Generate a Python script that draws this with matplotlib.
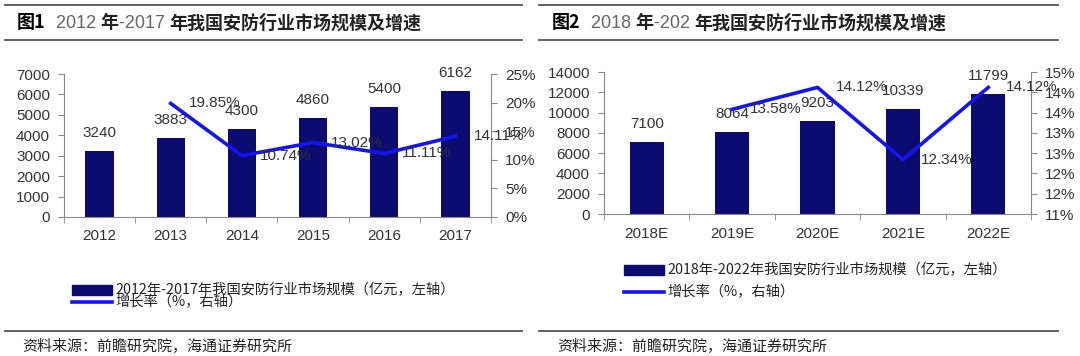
import numpy as np
import matplotlib
matplotlib.use("Agg")
import matplotlib.pyplot as plt
from matplotlib.patches import Rectangle
from matplotlib.lines import Line2D

plt.rcParams['font.family'] = ['Liberation Sans', 'Noto Sans CJK SC', 'DejaVu Sans']

# data - chart 1
years1 = ['2012', '2013', '2014', '2015', '2016', '2017']
size1 = [3240, 3883, 4300, 4860, 5400, 6162]
growth1 = [np.nan, 19.85, 10.74, 13.02, 11.11, 14.11]

# data - chart 2
years2 = ['2018E', '2019E', '2020E', '2021E', '2022E']
size2 = [7100, 8064, 9203, 10339, 11799]
growth2 = [np.nan, 13.58, 14.12, 12.34, 14.12]

title1 = [('图1', 'k', 'bold'), ('  2012 ', '#666666', 'normal'), ('年', '#222222', 'bold'),
          ('-2017 ', '#666666', 'normal'), ('年我国安防行业市场规模及增速', '#222222', 'bold')]
title2 = [('图2', 'k', 'bold'), ('  2018 ', '#666666', 'normal'), ('年', '#222222', 'bold'),
          ('-202 ', '#666666', 'normal'), ('年我国安防行业市场规模及增速', '#222222', 'bold')]
legend1 = ['2012年-2017年我国安防行业市场规模（亿元，左轴）', '增长率（%，右轴）']
legend2 = ['2018年-2022年我国安防行业市场规模（亿元，左轴）', '增长率（%，右轴）']
source = '资料来源：前瞻研究院，海通证券研究所'

BAR = '#0b0b70'
LINE = '#1414f0'
GREY = '#888888'
TXT = '#333333'
CJK = ['Noto Sans CJK SC', 'DejaVu Sans']

W, H = 1080, 356
fig = plt.figure(figsize=(W / 100, H / 100), dpi=100)


def fx(x):
    return x / W


def fy(y):
    return 1 - y / H


def rule(x0, x1, y):
    fig.add_artist(Line2D([fx(x0), fx(x1)], [fy(y), fy(y)], color='#555555', lw=1.3,
                          transform=fig.transFigure))


def pieces(x, y, parts):
    # title drawn piece by piece: bold CJK, light grey digits
    r = fig.canvas.get_renderer()
    for s, c, w in parts:
        if w == 'bold':
            t = fig.text(fx(x), fy(y), s, color=c, fontweight='bold', fontsize=13,
                         family=CJK, va='center', ha='left')
        else:
            t = fig.text(fx(x), fy(y), s, color=c, fontsize=13,
                         family=['Liberation Sans'], va='center', ha='left')
        bb = t.get_window_extent(renderer=r)
        x += bb.width


def chart(rect, cats, sizes, growth, ymax, ystep, rlim, rticks, rlabels):
    ax = fig.add_axes(rect)
    n = len(cats)
    x = np.arange(n)
    ax.bar(x, sizes, width=0.4, color=BAR, zorder=2)
    ax.set_xlim(-0.5, n - 0.5)
    ax.set_ylim(0, ymax)
    ax.set_yticks(np.arange(0, ymax + 1, ystep))
    ax.set_xticks(x)
    ax.set_xticklabels(cats)
    ax.set_xticks(np.arange(n + 1) - 0.5, minor=True)
    ax.tick_params(axis='x', which='major', length=0, pad=9, labelsize=11, labelcolor=TXT)
    ax.tick_params(axis='x', which='minor', length=4, color=GREY)
    ax.tick_params(axis='y', length=4, color=GREY, labelsize=11, labelcolor=TXT, pad=6)
    for k in ['top', 'right']:
        ax.spines[k].set_visible(False)
    for k in ['left', 'bottom']:
        ax.spines[k].set_color(GREY)
    for xi, v in zip(x, sizes):
        ax.annotate(str(v), (xi, v), xytext=(0, 13), textcoords='offset points',
                    ha='center', va='center', fontsize=11, color=TXT, zorder=5)

    ax2 = ax.twinx()
    ax2.plot(x, growth, color=LINE, lw=2.6, zorder=3)
    ax2.set_ylim(*rlim)
    ax2.set_yticks(rticks)
    ax2.set_yticklabels(rlabels)
    ax2.tick_params(axis='y', length=4, color=GREY, labelsize=11, labelcolor=TXT, pad=6)
    for k in ['top', 'left', 'bottom']:
        ax2.spines[k].set_visible(False)
    ax2.spines['right'].set_color(GREY)
    for xi, g in zip(x, growth):
        if not np.isnan(g):
            ax2.annotate('%.2f%%' % g, (xi, g), xytext=(13, 0), textcoords='offset points',
                         ha='left', va='center', fontsize=11, color=TXT)
    return ax, ax2


def legend(x, ybar, yline, labels):
    fig.add_artist(Rectangle((fx(x), fy(ybar + 5)), fx(40), 10 / H, color=BAR,
                             transform=fig.transFigure))
    fig.add_artist(Line2D([fx(x), fx(x + 40)], [fy(yline), fy(yline)], color=LINE, lw=2.6,
                          transform=fig.transFigure))
    fig.text(fx(x + 43), fy(ybar), labels[0], family=CJK, fontsize=10.3, color='#222222',
             va='center', ha='left')
    fig.text(fx(x + 43), fy(yline), labels[1], family=CJK, fontsize=10.3, color='#222222',
             va='center', ha='left')


# left panel
chart([fx(64), fy(217), fx(491 - 64), (217 - 74) / H], years1, size1, growth1,
      7000, 1000, (0, 25), np.arange(0, 26, 5), ['%d%%' % v for v in range(0, 26, 5)])
rule(5, 522, 5)
rule(5, 522, 40)
pieces(17, 23, title1)
legend(72, 290, 302, legend1)
rule(5, 522, 331)
fig.text(fx(22), fy(347), source, family=CJK, fontsize=10.8, color='#222222', va='center')

# right panel (axis 11%-14.5%, labels rounded half up like the original)
rt = np.arange(11, 14.51, 0.5)
rl = ['%d%%' % int(np.floor(v + 0.5)) for v in rt]
chart([fx(604), fy(214), fx(1031 - 604), (214 - 72) / H], years2, size2, growth2,
      14000, 2000, (11, 14.5), rt, rl)
rule(539, 1058, 5)
rule(539, 1058, 40)
pieces(552, 23, title2)
legend(624, 270, 292, legend2)
rule(539, 1058, 331)
fig.text(fx(557), fy(347), source, family=CJK, fontsize=10.8, color='#222222', va='center')

fig.savefig('out.png', dpi=100)
